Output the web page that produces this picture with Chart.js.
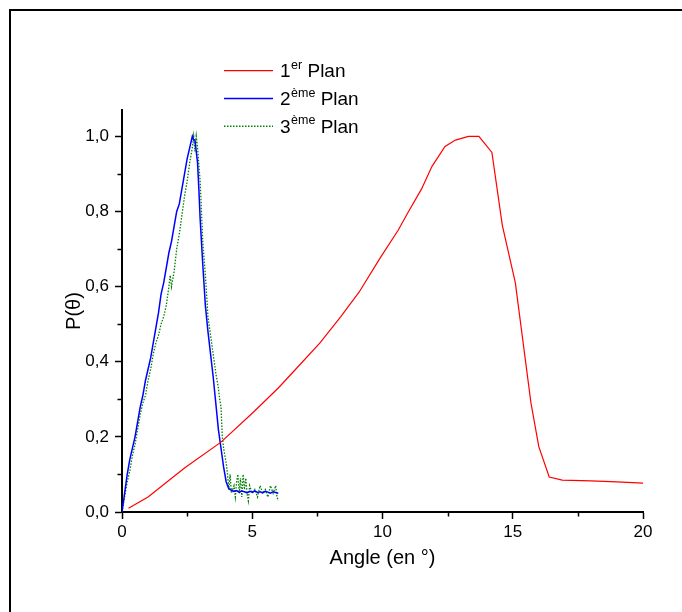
<!DOCTYPE html>
<html>
<head>
<meta charset="utf-8">
<style>
  body { margin: 0; background: #ffffff; }
  #wrap { position: relative; width: 682px; height: 612px; overflow: hidden; background: #fff; }
  #frame { position: absolute; left: 9px; top: 9px; width: 700px; height: 700px; border-top: 2px solid #000; border-left: 2px solid #000; }
  #chart { position: absolute; left: 0; top: 0; }
</style>
</head>
<body>
<div id="wrap">
  <div id="frame"></div>
  <canvas id="chart" width="682" height="612"></canvas>
</div>
<script src="https://cdn.jsdelivr.net/npm/chart.js"></script>
<script>
  // data
  const angle1 = [0.25, 1.0, 2.4, 3.8, 5.0, 6.0, 6.8, 7.6, 8.4, 9.1, 9.9, 10.6, 11.0, 11.5, 11.9, 12.4, 12.8, 13.3, 13.7, 14.2, 14.6, 15.1, 15.7, 16.0, 16.4, 16.9, 18.0, 19.0, 20.0];
  const plan1 = [0.01, 0.04, 0.117, 0.186, 0.263, 0.33, 0.39, 0.45, 0.52, 0.585, 0.675, 0.75, 0.80, 0.86, 0.92, 0.973, 0.99, 1.0, 1.0, 0.957, 0.763, 0.61, 0.29, 0.174, 0.093, 0.085, 0.083, 0.080, 0.077];

  const angle2 = [0, 0.1, 0.2, 0.3, 0.4, 0.5, 0.6, 0.7, 0.8, 0.9, 1.0, 1.1, 1.2, 1.3, 1.4, 1.5, 1.6, 1.7, 1.8, 1.9, 2.0, 2.1, 2.2, 2.3, 2.4, 2.5, 2.6, 2.7, 2.75, 2.8, 2.85, 2.9, 2.95, 3.0, 3.1, 3.2, 3.3, 3.4, 3.5, 3.6, 3.7, 3.8, 3.9, 4.0, 4.1, 4.2, 4.3, 4.4, 4.5, 4.6, 4.7, 4.8, 4.9, 5.0, 5.1, 5.2, 5.3, 5.4, 5.5, 5.6, 5.7, 5.8, 5.9, 6.0];
  const plan2 = [0, 0.05, 0.10, 0.14, 0.17, 0.20, 0.24, 0.28, 0.31, 0.35, 0.38, 0.41, 0.45, 0.49, 0.53, 0.58, 0.61, 0.65, 0.69, 0.72, 0.76, 0.80, 0.82, 0.86, 0.90, 0.94, 0.97, 1.0, 0.99, 0.99, 0.96, 0.93, 0.86, 0.78, 0.66, 0.55, 0.48, 0.42, 0.36, 0.29, 0.22, 0.17, 0.12, 0.08, 0.062, 0.058, 0.055, 0.057, 0.052, 0.056, 0.054, 0.051, 0.055, 0.053, 0.056, 0.052, 0.054, 0.051, 0.055, 0.053, 0.050, 0.054, 0.052, 0.050];

  const angle3 = [0, 0.1, 0.2, 0.3, 0.4, 0.5, 0.6, 0.7, 0.8, 0.9, 1.0, 1.1, 1.2, 1.3, 1.4, 1.5, 1.6, 1.7, 1.8, 1.85, 1.9, 2.0, 2.1, 2.2, 2.3, 2.4, 2.5, 2.6, 2.7, 2.75, 2.8, 2.85, 2.9, 3.0, 3.1, 3.2, 3.3, 3.4, 3.5, 3.6, 3.7, 3.75, 3.8, 3.85, 3.9, 4.0, 4.05, 4.1, 4.15, 4.2, 4.3, 4.35, 4.4, 4.45, 4.5, 4.55, 4.6, 4.65, 4.7, 4.75, 4.8, 4.85, 4.9, 5.0, 5.1, 5.2, 5.3, 5.4, 5.5, 5.6, 5.7, 5.8, 5.9, 5.95, 6.0];
  const plan3 = [0, 0.04, 0.08, 0.11, 0.15, 0.18, 0.22, 0.26, 0.29, 0.31, 0.35, 0.38, 0.42, 0.45, 0.47, 0.50, 0.52, 0.55, 0.60, 0.63, 0.60, 0.64, 0.70, 0.74, 0.79, 0.84, 0.88, 0.93, 0.97, 1.0, 0.96, 1.0, 0.97, 0.88, 0.72, 0.63, 0.52, 0.47, 0.42, 0.37, 0.33, 0.30, 0.28, 0.20, 0.17, 0.13, 0.10, 0.06, 0.10, 0.05, 0.07, 0.04, 0.08, 0.10, 0.05, 0.09, 0.04, 0.10, 0.06, 0.09, 0.05, 0.03, 0.07, 0.05, 0.06, 0.04, 0.07, 0.05, 0.06, 0.04, 0.07, 0.05, 0.07, 0.04, 0.03];

  const legendMain = ['1', '2', '3'];
  const legendSup = ['er', 'ème', 'ème'];
  const legendTail = ' Plan';
  const legendColors = ['#ff0000', '#0000ff', '#008000'];

  const xMinorTicks = [2.5, 7.5, 12.5, 17.5];
  const yMinorTicks = [0.1, 0.3, 0.5, 0.7, 0.9];

  const fontName = '"Liberation Sans", Arial, sans-serif';

  const toPoints = (xs, ys) => xs.map((x, i) => ({ x: x, y: ys[i] }));

  // petits traits secondaires des axes
  const minorTicks = {
    id: 'minorTicks',
    afterDraw(chart) {
      const c = chart.ctx;
      const xs = chart.scales.x;
      const ys = chart.scales.y;
      c.save();
      c.strokeStyle = '#000';
      c.lineWidth = 1.5;
      c.beginPath();
      xMinorTicks.forEach(v => {
        const px = Math.round(xs.getPixelForValue(v)) + 0.5;
        c.moveTo(px, xs.top);
        c.lineTo(px, xs.top + 4.5);
      });
      yMinorTicks.forEach(v => {
        const py = Math.round(ys.getPixelForValue(v)) + 0.5;
        c.moveTo(ys.right, py);
        c.lineTo(ys.right - 4.5, py);
      });
      c.stroke();
      c.restore();
    }
  };

  // légende avec exposants
  const supLegend = {
    id: 'supLegend',
    afterDraw(chart) {
      const c = chart.ctx;
      c.save();
      legendMain.forEach((txt, i) => {
        const y = 70.7 + i * 27.8;
        c.strokeStyle = legendColors[i];
        c.lineWidth = i === 0 ? 1.2 : 1.5;
        c.setLineDash(i === 2 ? [1.5, 1.5] : []);
        c.beginPath();
        c.moveTo(224, y);
        c.lineTo(273, y);
        c.stroke();
        c.setLineDash([]);
        c.fillStyle = '#000';
        c.textBaseline = 'alphabetic';
        const base = y + 6.5;
        c.font = '19px ' + fontName;
        c.fillText(txt, 280, base);
        let x = 280 + c.measureText(txt).width + 0.5;
        c.font = '12.5px ' + fontName;
        c.fillText(legendSup[i], x, base - 8.5);
        x += c.measureText(legendSup[i]).width;
        c.font = '19px ' + fontName;
        c.fillText(legendTail, x, base);
      });
      c.restore();
    }
  };

  const ctx = document.getElementById('chart').getContext('2d');
  new Chart(ctx, {
    type: 'scatter',
    data: {
      datasets: [
        { label: '1er Plan', data: toPoints(angle1, plan1), showLine: true, borderColor: '#ff0000', borderWidth: 1.2, pointRadius: 0 },
        { label: '2ème Plan', data: toPoints(angle2, plan2), showLine: true, borderColor: '#0000ff', borderWidth: 1.5, pointRadius: 0 },
        { label: '3ème Plan', data: toPoints(angle3, plan3), showLine: true, borderColor: '#008000', borderWidth: 1.3, borderDash: [1.5, 1.5], pointRadius: 0 }
      ]
    },
    options: {
      responsive: false,
      animation: false,
      layout: { padding: { left: 58, top: 110, right: 39, bottom: 38 } },
      plugins: {
        legend: { display: false },
        tooltip: { enabled: false }
      },
      scales: {
        x: {
          type: 'linear',
          min: 0,
          max: 20,
          afterFit: s => { s.height = 62; },
          ticks: { stepSize: 5, color: '#000', font: { family: fontName, size: 17 }, padding: 3, maxRotation: 0 },
          grid: { drawOnChartArea: false, tickLength: 7, tickColor: '#000', tickWidth: 1.5 },
          border: { color: '#000', width: 2 },
          title: { display: true, text: 'Angle (en °)', color: '#000', font: { family: fontName, size: 20 }, padding: { top: 4, bottom: 4 } }
        },
        y: {
          min: 0,
          max: 1.07,
          afterFit: s => { s.width = 64; },
          ticks: {
            stepSize: 0.2,
            includeBounds: false,
            color: '#000',
            font: { family: fontName, size: 17 },
            padding: 6,
            callback: v => v.toFixed(1).replace('.', ',')
          },
          grid: { drawOnChartArea: false, tickLength: 7, tickColor: '#000', tickWidth: 1.5 },
          border: { color: '#000', width: 2 },
          title: { display: true, text: 'P(θ)', color: '#000', font: { family: fontName, size: 20 }, padding: { top: 4, bottom: 4 } }
        }
      }
    },
    plugins: [minorTicks, supLegend]
  });
</script>
</body>
</html>
